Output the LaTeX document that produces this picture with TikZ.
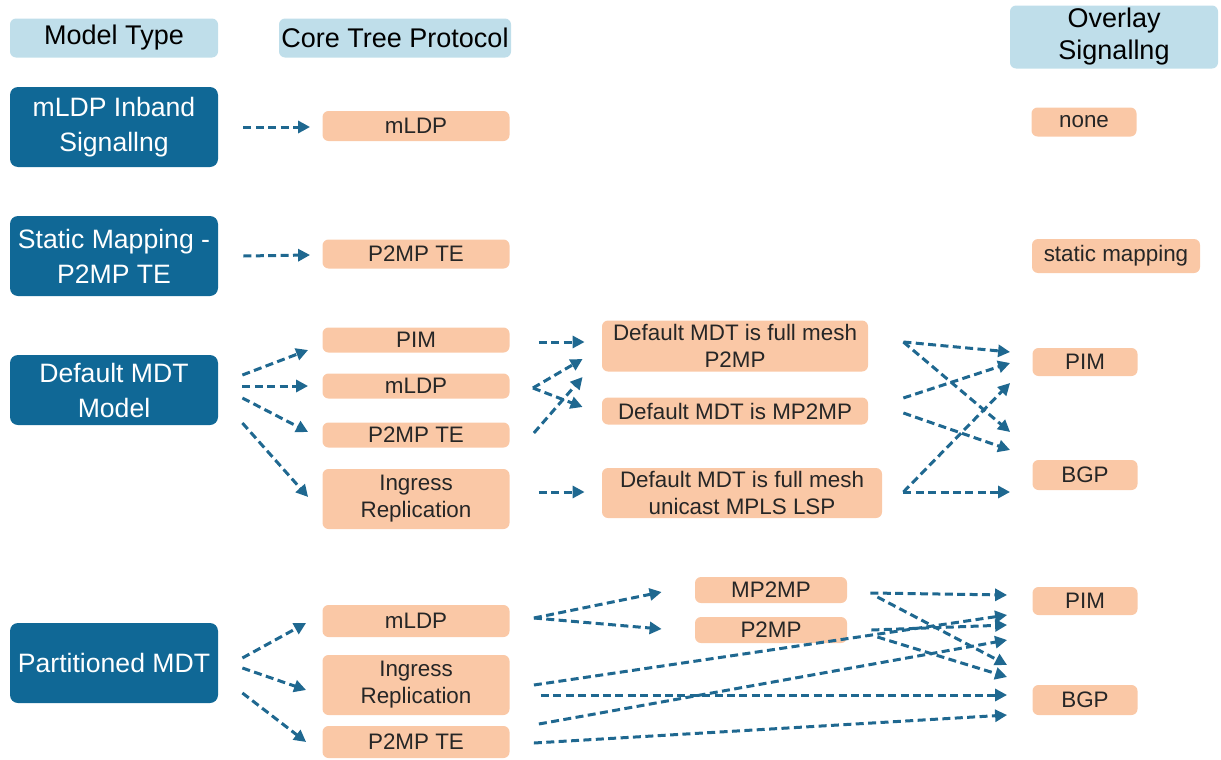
\documentclass[tikz,border=0pt]{standalone}
\usepackage{fontspec}
\setmainfont{Liberation Sans}
\usetikzlibrary{calc,arrows.meta}
\definecolor{hdr}{RGB}{191,222,234}
\definecolor{mdl}{RGB}{16,104,150}
\definecolor{opt}{RGB}{250,200,166}
\definecolor{arw}{RGB}{31,104,144}

\begin{document}
\begin{tikzpicture}[x=0.5pt,y=-0.5pt,
    hbox/.style={fill=hdr, rounded corners=3pt, align=center, inner sep=0pt,
        font=\fontsize{13.5}{16}\selectfont},
    mbox/.style={fill=mdl, text=white, rounded corners=4pt, align=center, inner sep=0pt,
        minimum width=104pt, font=\fontsize{13.3}{17.5}\selectfont},
    obox/.style={fill=opt, rounded corners=3pt, align=center, inner sep=0pt,
        text=black!85, font=\fontsize{11.2}{13.5}\selectfont},
    arr/.style={arw, line width=1.5pt, dash pattern=on 4pt off 2.2pt,
        -{Triangle[length=6pt,width=6pt]}}]
            \useasboundingbox (0,0) rectangle (1221,760);
            % column headers
            \node[hbox, minimum width=104pt, minimum height=19.5pt](hmt) at (114, 38) {Model Type};
            \node[hbox, minimum width=116pt, minimum height=19.5pt](hct) at (395, 38) {Core Tree Protocol};
            \node[hbox, minimum width=104pt, minimum height=31.5pt](hos) at (1114, 37) {Overlay\\Signallng};
            % model types
            \node[mbox, minimum height=40pt](m1) at (114, 127) {mLDP Inband\\Signallng};
            \node[mbox, minimum height=40pt](m2) at (114, 256) {Static Mapping -\\P2MP TE};
            \node[mbox, minimum height=35pt](m3) at (114, 390) {Default MDT\\Model};
            \node[mbox, minimum height=40pt](m4) at (114, 663) {Partitioned MDT};
            % core tree protocols
            \node[obox, minimum width=93.5pt, minimum height=15pt](c1) at (416, 126) {mLDP};
            \node[obox, minimum width=93.5pt, minimum height=14.5pt](c2) at (416, 254) {P2MP TE};
            \node[obox, minimum width=93.5pt, minimum height=12.5pt](c3) at (416, 340) {PIM};
            \node[obox, minimum width=93.5pt, minimum height=12.5pt](c4) at (416, 386) {mLDP};
            \node[obox, minimum width=93.5pt, minimum height=12.5pt](c5) at (416, 435) {P2MP TE};
            \node[obox, minimum width=93.5pt, minimum height=30pt](c6) at (416, 499) {Ingress\\Replication};
            \node[obox, minimum width=93.5pt, minimum height=16pt](c7) at (416, 621) {mLDP};
            \node[obox, minimum width=93.5pt, minimum height=30pt](c8) at (416, 685) {Ingress\\Replication};
            \node[obox, minimum width=93.5pt, minimum height=16pt](c9) at (416, 742) {P2MP TE};
            % default MDT and partitioned trees
            \node[obox, minimum width=133pt, minimum height=25.5pt](d1) at (735, 346) {Default MDT is full mesh\\P2MP};
            \node[obox, minimum width=133pt, minimum height=13.5pt](d2) at (735, 411) {Default MDT is MP2MP};
            \node[obox, minimum width=140pt, minimum height=25pt](d3) at (742, 493) {Default MDT is full mesh\\unicast MPLS LSP};
            \node[obox, minimum width=76pt, minimum height=13pt](p1) at (771, 590) {MP2MP};
            \node[obox, minimum width=76pt, minimum height=13pt](p2) at (771, 630) {P2MP};
            % overlay signalling
            \node[obox, minimum width=52.5pt, minimum height=14.5pt](o1) at (1084, 122) {none};
            \node[obox, minimum width=84pt, minimum height=17pt](o2) at (1116, 256) {static mapping};
            \node[obox, minimum width=52.5pt, minimum height=14pt](o3) at (1085, 362) {PIM};
            \node[obox, minimum width=52.5pt, minimum height=15pt](o4) at (1085, 475) {BGP};
            \node[obox, minimum width=52.5pt, minimum height=14pt](o5) at (1085, 601) {PIM};
            \node[obox, minimum width=52.5pt, minimum height=15pt](o6) at (1085, 700) {BGP};
            % model type -> core tree
            \draw[arr] ($(m1.east)+(25,0)$) -- ($(c1.west)+(-12,1)$);
            \draw[arr] ($(m2.east)+(25,0)$) -- ($(c2.west)+(-12,1)$);
            \draw[arr] ($(m3.east)+(24,-15)$) -- ($(c3.west)+(-14,10)$);
            \draw[arr] ($(m3.east)+(24,-4)$) -- ($(c4.west)+(-14,0)$);
            \draw[arr] ($(m3.east)+(24,8)$) -- ($(c5.west)+(-14,-3)$);
            \draw[arr] ($(m3.east)+(24,33)$) -- ($(c6.west)+(-14,-2)$);
            \draw[arr] ($(m4.east)+(24,-5)$) -- ($(c7.west)+(-16,2)$);
            \draw[arr] ($(m4.east)+(24,5)$) -- ($(c8.west)+(-16,5)$);
            \draw[arr] ($(m4.east)+(24,30)$) -- ($(c9.west)+(-16,0)$);
            % core tree -> default MDT
            \draw[arr] ($(c3.east)+(29,2)$) -- ($(d1.west)+(-17,-4)$);
            \draw[arr] ($(c4.east)+(23,2)$) -- ($(d1.west)+(-19,13)$);
            \draw[arr] ($(c4.east)+(23,2)$) -- ($(d2.west)+(-19,-4)$);
            \draw[arr] ($(c5.east)+(24,-2)$) -- ($(d1.west)+(-19,31)$);
            \draw[arr] ($(c6.east)+(29,-7)$) -- ($(d3.west)+(-17,-1)$);
            % default MDT -> overlay
            \draw[arr] ($(d1.east)+(35,-4)$) -- ($(o3.west)+(-22,-10)$);
            \draw[arr] ($(d1.east)+(35,-4)$) -- ($(o4.west)+(-22,-43)$);
            \draw[arr] ($(d2.east)+(35,-13)$) -- ($(o3.west)+(-22,1)$);
            \draw[arr] ($(d2.east)+(35,2)$) -- ($(o4.west)+(-22,-25)$);
            \draw[arr] ($(d3.east)+(21,-1)$) -- ($(o3.west)+(-22,21)$);
            \draw[arr] ($(d3.east)+(21,-1)$) -- ($(o4.west)+(-22,17)$);
            % partitioned MDT
            \draw[arr] ($(c7.east)+(24,-3)$) -- ($(p1.west)+(-33,2)$);
            \draw[arr] ($(c7.east)+(24,-3)$) -- ($(p2.west)+(-33,-1)$);
            \draw[arr] ($(p1.east)+(23,3)$) -- ($(o5.west)+(-25,-6)$);
            \draw[arr] ($(p1.east)+(30,7)$) -- ($(o6.west)+(-25,-35)$);
            \draw[arr] ($(p2.east)+(24,0)$) -- ($(o5.west)+(-25,24)$);
            \draw[arr] ($(p2.east)+(30,7)$) -- ($(o6.west)+(-25,-23)$);
            \draw[arr] ($(c8.east)+(24,0)$) -- ($(o5.west)+(-25,14)$);
            \draw[arr] ($(c8.east)+(31,10)$) -- ($(o6.west)+(-25,-5)$);
            \draw[arr] ($(c9.east)+(29,-18)$) -- ($(o5.west)+(-25,39)$);
            \draw[arr] ($(c9.east)+(24,1)$) -- ($(o6.west)+(-25,15)$);
        \end{tikzpicture}
\end{document}
